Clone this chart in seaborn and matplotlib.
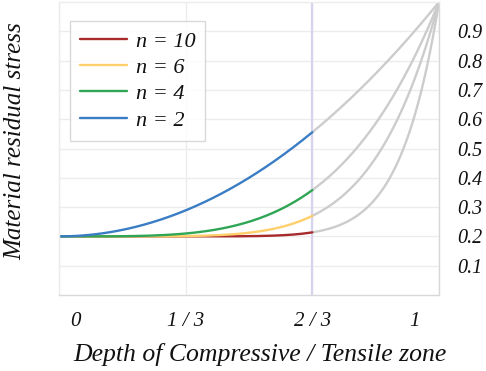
import numpy as np
import pandas as pd
import matplotlib
matplotlib.use("Agg")
import matplotlib.pyplot as plt
import matplotlib.transforms as mtransforms
import seaborn as sns

# Power-law residual stress profiles: s(x) = base + (peak - base) * x**n
exponents = [10, 6, 4, 2]
series_colors = ["#a82a2a", "#ffcf6b", "#2fa655", "#3a7dc4"]
base_stress = 0.2
peak_stress = 1.0
zone_boundary = 2 / 3
x_ticks = [0, 1 / 3, 2 / 3, 1]
x_tick_labels = ["0", "1 / 3", "2 / 3", "1"]
y_ticks = [0.1, 0.2, 0.3, 0.4, 0.5, 0.6, 0.7, 0.8, 0.9]

depth = np.linspace(0, 1, 400)
rows = []
for n in exponents:
    stress = base_stress + (peak_stress - base_stress) * depth ** n
    for d, s in zip(depth, stress):
        rows.append({"depth": d, "stress": s, "n": f"n = {n}"})
df = pd.DataFrame(rows)

sns.set_theme(style="white")
plt.rcParams["font.family"] = ["Liberation Serif", "DejaVu Serif"]
text_color = "#111111"

fig = plt.figure(figsize=(4.86, 3.71), dpi=100)
ax = fig.add_axes([59 / 486, 76 / 371, 380 / 486, 293 / 371])

# grey continuation beyond the boundary
outer = df[df["depth"] >= zone_boundary - 1e-9]
sns.lineplot(data=outer, x="depth", y="stress", units="n", estimator=None,
             color="#cccccc", lw=1.7, ax=ax, legend=False)

inner = df[df["depth"] <= zone_boundary + 1e-9]
sns.lineplot(data=inner, x="depth", y="stress", hue="n",
             hue_order=[f"n = {n}" for n in exponents],
             palette=series_colors, lw=1.7, ax=ax, estimator=None)

ax.axvline(zone_boundary, color="#d6d3ee", lw=1.6, zorder=1)

ax.set_xlim(0, 1)
ax.set_ylim(0, 1)
ax.set_xticks(x_ticks)
ax.grid(True, color="#ececec", lw=1.0)
ax.set_axisbelow(True)
for side in ["top", "left"]:
    ax.spines[side].set_color("#ececec")
for side in ["bottom", "right"]:
    ax.spines[side].set_color("#d8d8d8")
for sp in ax.spines.values():
    sp.set_linewidth(1.0)

ax.yaxis.tick_right()
ax.set_yticks(y_ticks)
ax.set_yticklabels([f"{v:.1f}" for v in y_ticks], fontstyle="italic",
                   fontsize=14.5, color=text_color)
ax.tick_params(axis="y", length=0, pad=13)
ax.set_xticklabels(x_tick_labels, fontstyle="italic", fontsize=15,
                   color=text_color)
ax.tick_params(axis="x", length=0, pad=12)
xl = ax.get_xticklabels()
xl[0].set_transform(xl[0].get_transform() +
                    mtransforms.ScaledTranslation(16 / 100, 0, fig.dpi_scale_trans))
xl[-1].set_transform(xl[-1].get_transform() +
                     mtransforms.ScaledTranslation(-24 / 100, 0, fig.dpi_scale_trans))

ax.set_xlabel("Depth of Compressive / Tensile zone", fontstyle="italic",
              fontsize=18.5, color=text_color)
ax.xaxis.set_label_coords(0.53, -0.165)
ax.set_ylabel("Material residual stress", fontstyle="italic",
              fontsize=18, color=text_color)
ax.yaxis.set_label_position("left")
ax.yaxis.set_label_coords(-0.085, 0.525)

leg = ax.legend(loc="upper left", bbox_to_anchor=(0.029, 0.935), frameon=True,
                fancybox=False, edgecolor="#d0d0d0", borderaxespad=0,
                prop={"style": "italic", "size": 16}, handlelength=2.1,
                handletextpad=0.4, labelspacing=0.26, borderpad=0.45)
leg.get_frame().set_linewidth(1.0)
for t in leg.get_texts():
    t.set_color(text_color)

fig.savefig("out.png", dpi=100)
